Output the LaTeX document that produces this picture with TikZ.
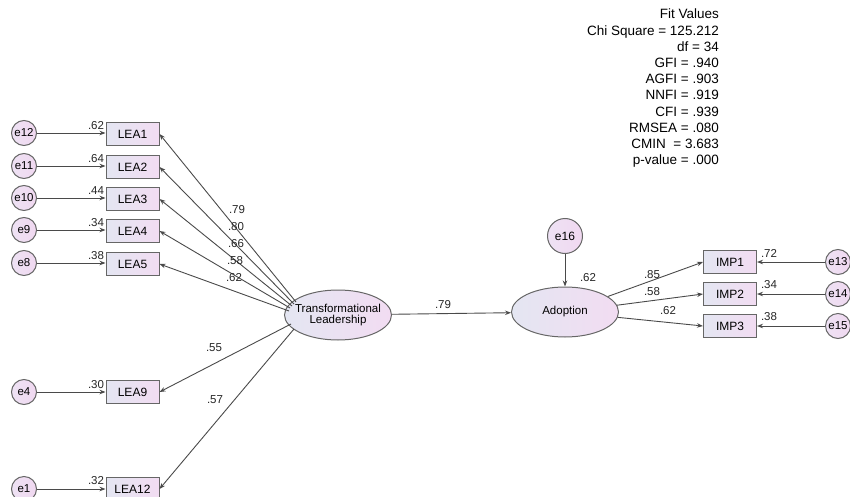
\documentclass[tikz,border=0pt]{standalone}
\usepackage{fontspec}
\setmainfont{Liberation Sans}
\usetikzlibrary{shapes.geometric,arrows.meta}
\definecolor{linec}{HTML}{4A4A4A}
\definecolor{bordc}{HTML}{666666}
\definecolor{fillL}{HTML}{E4E6F2}
\definecolor{fillR}{HTML}{F2DCF2}
\definecolor{errL}{HTML}{EEE2F4}
\definecolor{errR}{HTML}{F0D8F0}
\tikzset{
  errc/.style={circle, draw=bordc, line width=1pt, minimum size=25pt, inner sep=0pt, left color=errL, right color=errR, font=\fontsize{11.5}{13}\selectfont},
  obsbox/.style={rectangle, draw=bordc, line width=1pt, minimum width=53pt, minimum height=23pt, inner sep=0pt, left color=fillL, right color=fillR, font=\fontsize{12}{13}\selectfont},
  latent/.style={ellipse, draw=bordc, line width=1pt, minimum width=107pt, minimum height=50pt, inner xsep=-10pt, inner ysep=0pt, left color=fillL, right color=fillR, font=\fontsize{11.5}{13}\selectfont, align=center},
  arr/.style={draw=linec, line width=0.9pt, -{Stealth[length=6pt,width=4.5pt]}},
  lbl/.style={inner sep=0pt, font=\fontsize{11.5}{13}\selectfont, text=black!85}
}
\begin{document}
\begin{tikzpicture}[x=1pt,y=-1pt]
\useasboundingbox (0,0) rectangle (850,497);
% error terms left
\node[errc] (e12) at (24,133) {e12};
\node[errc] (e11) at (24,166) {e11};
\node[errc] (e10) at (24,198) {e10};
\node[errc] (e9) at (24,230) {e9};
\node[errc] (e8) at (24,263) {e8};
\node[errc] (e4) at (24,392) {e4};
\node[errc] (e1) at (24,489) {e1};
% observed LEA
\node[obsbox] (lea1) at (132.5,134) {LEA1};
\node[obsbox] (lea2) at (132.5,167) {LEA2};
\node[obsbox] (lea3) at (132.5,199) {LEA3};
\node[obsbox] (lea4) at (132.5,231) {LEA4};
\node[obsbox] (lea5) at (132.5,264) {LEA5};
\node[obsbox] (lea9) at (132.5,392) {LEA9};
\node[obsbox] (lea12) at (132.5,489) {LEA12};
% latent
\node[latent] (tl) at (338,315) {Transformational\\[-2pt]Leadership};
\node[latent] (ad) at (565,312) {Adoption};
\node[errc, minimum size=35pt, font=\fontsize{12}{13}\selectfont] (e16) at (565,236) {e16};
% IMP
\node[obsbox] (imp1) at (730,262) {IMP1};
\node[obsbox] (imp2) at (730,294) {IMP2};
\node[obsbox] (imp3) at (730,326) {IMP3};
\node[errc] (e13) at (838,262) {e13};
\node[errc] (e14) at (838,294) {e14};
\node[errc] (e15) at (838,326) {e15};
% coordinates on the ellipse for the fan of loadings
\coordinate (t1) at (296,302);
\coordinate (t2) at (294,304);
\coordinate (t3) at (292,306);
\coordinate (t4) at (290,308);
\coordinate (t5) at (289,311);
\coordinate (t9) at (291,324);
\coordinate (t12) at (294,329);
% arrows errors to LEA
\draw[arr] (e12) -- (lea1.west |- e12);
\draw[arr] (e11) -- (lea2.west |- e11);
\draw[arr] (e10) -- (lea3.west |- e10);
\draw[arr] (e9) -- (lea4.west |- e9);
\draw[arr] (e8) -- (lea5.west |- e8);
\draw[arr] (e4) -- (lea9);
\draw[arr] (e1) -- (lea12);
% loadings
\draw[arr] (t1) -- (lea1.east);
\draw[arr] (t2) -- (lea2.east);
\draw[arr] (t3) -- (lea3.east);
\draw[arr] (t4) -- (lea4.east);
\draw[arr] (t5) -- (lea5.east);
\draw[arr] (t9) -- (lea9.east);
\draw[arr] (t12) -- (lea12.east);
% structural
\draw[arr] (tl) -- (ad);
\draw[arr] (e16) -- (ad);
\draw[arr] (ad) -- (imp1.west);
\draw[arr] (ad) -- (imp2.west);
\draw[arr] (ad) -- (imp3.west);
\draw[arr] (e13) -- (imp1);
\draw[arr] (e14) -- (imp2);
\draw[arr] (e15) -- (imp3);
% labels
\node[lbl] (l62a) at (96,126) {.62};
\node[lbl] (l64) at (96,159) {.64};
\node[lbl] (l44) at (96,191) {.44};
\node[lbl] (l34a) at (96,223) {.34};
\node[lbl] (l38a) at (96,256) {.38};
\node[lbl] (l30) at (96,385) {.30};
\node[lbl] (l32) at (96,481) {.32};
\node[lbl] (k79) at (237,210) {.79};
\node[lbl] (k80) at (236,227) {.80};
\node[lbl] (k66) at (236,244) {.66};
\node[lbl] (k58) at (235,261) {.58};
\node[lbl] (k62) at (234,278) {.62};
\node[lbl] (k55) at (214,348) {.55};
\node[lbl] (k57) at (215,400) {.57};
\node[lbl] (s79) at (443,305) {.79};
\node[lbl] (r62) at (588,278) {.62};
\node[lbl] (m85) at (652,275) {.85};
\node[lbl] (m58) at (652,292) {.58};
\node[lbl] (m62) at (668,311) {.62};
\node[lbl] (u72) at (769,253) {.72};
\node[lbl] (u34) at (769,285) {.34};
\node[lbl] (u38) at (769,317) {.38};
% fit values
\node[anchor=north east, align=right, inner sep=0pt, font=\fontsize{13.5}{16.2}\selectfont] (fit) at (719,9)
{Fit Values\\Chi Square = 125.212\\df = 34\\GFI = .940\\AGFI = .903\\NNFI = .919\\CFI = .939\\RMSEA = .080\\CMIN\ \ = 3.683\\p-value = .000};
\end{tikzpicture}
\end{document}
